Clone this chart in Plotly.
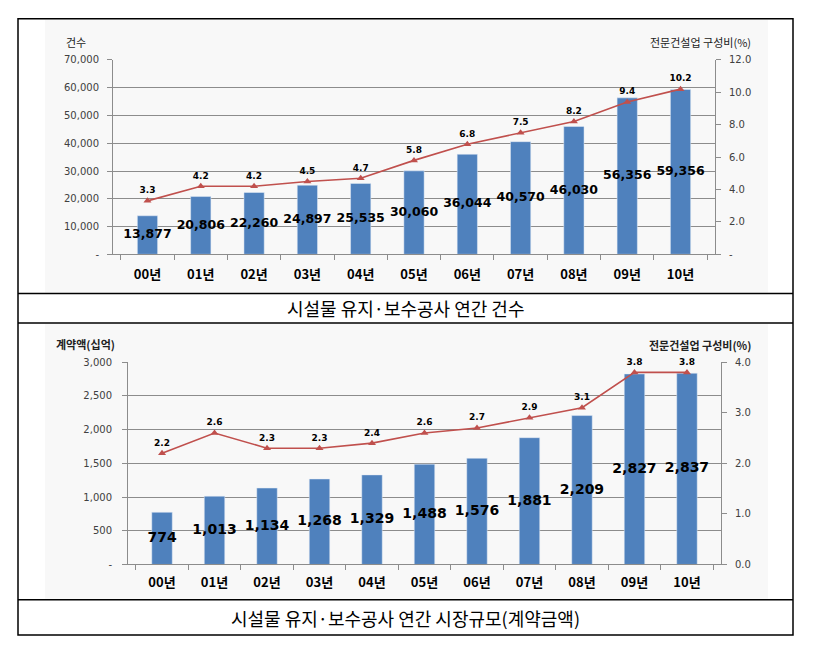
import plotly.graph_objects as go

W, H = 813, 647

years = ["00년", "01년", "02년", "03년", "04년", "05년", "06년", "07년", "08년", "09년", "10년"]

# chart 1: counts
counts = [13877, 20806, 22260, 24897, 25535, 30060, 36044, 40570, 46030, 56356, 59356]
count_share = [3.3, 4.2, 4.2, 4.5, 4.7, 5.8, 6.8, 7.5, 8.2, 9.4, 10.2]
left1_ticks = [0, 10000, 20000, 30000, 40000, 50000, 60000, 70000]
left1_text = ["-", "10,000", "20,000", "30,000", "40,000", "50,000", "60,000", "70,000"]
right1_ticks = [0, 2, 4, 6, 8, 10, 12]
right1_text = ["-", "2.0", "4.0", "6.0", "8.0", "10.0", "12.0"]

# chart 2: contract amount
amounts = [774, 1013, 1134, 1268, 1329, 1488, 1576, 1881, 2209, 2827, 2837]
amount_share = [2.2, 2.6, 2.3, 2.3, 2.4, 2.6, 2.7, 2.9, 3.1, 3.8, 3.8]
left2_ticks = [0, 500, 1000, 1500, 2000, 2500, 3000]
left2_text = ["-", "500", "1,000", "1,500", "2,000", "2,500", "3,000"]
right2_ticks = [0, 1, 2, 3, 4]
right2_text = ["0.0", "1.0", "2.0", "3.0", "4.0"]

caption1 = "시설물 유지·보수공사 연간 건수"
caption2 = "시설물 유지·보수공사 연간 시장규모(계약금액)"

BAR = "#4F81BD"
LINE = "#C0504D"
GRID = "#8c8c8c"
NUMFONT = "DejaVu Sans, Verdana, sans-serif"
KFONT = "Noto Sans CJK KR, sans-serif"


def px(x):
    return x / W


def py(y):
    return 1 - y / H


fig = go.Figure()

# ---- chart 1
fig.add_trace(go.Bar(x=years, y=counts, marker_color=BAR, width=0.38,
                     xaxis="x", yaxis="y", hoverinfo="skip"))
fig.add_trace(go.Scatter(x=years, y=[v / 2 for v in counts], mode="text",
                         text=[f"{v:,}" for v in counts], cliponaxis=False,
                         textfont=dict(family=NUMFONT, size=12.5, color="black", weight="bold"),
                         xaxis="x", yaxis="y", hoverinfo="skip"))
fig.add_trace(go.Scatter(x=years, y=count_share, mode="lines+markers+text",
                         line=dict(color=LINE, width=1.6), cliponaxis=False,
                         marker=dict(symbol="triangle-up", size=7, color=LINE),
                         text=[f"{v:.1f}" for v in count_share], textposition="top center",
                         textfont=dict(family=NUMFONT, size=9, color="black", weight="bold"),
                         xaxis="x", yaxis="y2", hoverinfo="skip"))

# ---- chart 2
fig.add_trace(go.Bar(x=years, y=amounts, marker_color=BAR, width=0.39,
                     xaxis="x2", yaxis="y3", hoverinfo="skip"))
fig.add_trace(go.Scatter(x=years, y=[v / 2 for v in amounts], mode="text",
                         text=[f"{v:,}" for v in amounts], cliponaxis=False,
                         textfont=dict(family=NUMFONT, size=14, color="black", weight="bold"),
                         xaxis="x2", yaxis="y3", hoverinfo="skip"))
fig.add_trace(go.Scatter(x=years, y=amount_share, mode="lines+markers+text",
                         line=dict(color=LINE, width=1.6), cliponaxis=False,
                         marker=dict(symbol="triangle-up", size=7, color=LINE),
                         text=[f"{v:.1f}" for v in amount_share], textposition="top center",
                         textfont=dict(family=NUMFONT, size=9, color="black", weight="bold"),
                         xaxis="x2", yaxis="y4", hoverinfo="skip"))

tickfont = dict(family=NUMFONT, size=10, color="#404040")
xfont = dict(family=KFONT, size=13, color="black", weight="bold")

xcommon = dict(type="category", showline=True, linecolor=GRID, linewidth=1,
               ticks="outside", ticklen=5, tickcolor=GRID, tickson="boundaries",
               tickfont=xfont, showgrid=False, zeroline=False, fixedrange=True)

fig.update_layout(
    width=W, height=H, margin=dict(l=0, r=0, t=0, b=0),
    paper_bgcolor="white", plot_bgcolor="white", showlegend=False,
    xaxis=dict(domain=[px(113), px(715)], anchor="y", ticklabelstandoff=8, **xcommon),
    yaxis=dict(domain=[py(253), py(55)], anchor="x", range=[0, 70000],
               tickvals=left1_ticks, ticktext=left1_text, tickfont=tickfont,
               showgrid=True, gridcolor=GRID, gridwidth=1, zeroline=False,
               showline=True, linecolor=GRID, ticks="outside", ticklen=5,
               tickcolor=GRID, ticklabelstandoff=6),
    yaxis2=dict(overlaying="y", side="right", anchor="x", range=[0, 12],
                tickvals=right1_ticks, ticktext=right1_text, tickfont=tickfont,
                showgrid=False, zeroline=False, showline=True, linecolor=GRID,
                ticks="outside", ticklen=5, tickcolor=GRID, ticklabelstandoff=6),
    xaxis2=dict(domain=[px(128), px(721)], anchor="y3", ticklabelstandoff=6, **xcommon),
    yaxis3=dict(domain=[py(569), py(363)], anchor="x2", range=[0, 3000],
                tickvals=left2_ticks, ticktext=left2_text, tickfont=tickfont,
                showgrid=True, gridcolor=GRID, gridwidth=1, zeroline=False,
                showline=True, linecolor=GRID, ticks="outside", ticklen=5,
                tickcolor=GRID, ticklabelstandoff=8),
    yaxis4=dict(overlaying="y3", side="right", anchor="x2", range=[0, 4],
                tickvals=right2_ticks, ticktext=right2_text, tickfont=tickfont,
                showgrid=False, zeroline=False, showline=True, linecolor=GRID,
                ticks="outside", ticklen=5, tickcolor=GRID, ticklabelstandoff=6),
)

shapes = []
# light chart-area backgrounds
for (y0, y1) in [(14, 292), (324, 604)]:
    shapes.append(dict(type="rect", xref="paper", yref="paper", layer="below",
                       x0=px(45), x1=px(768), y0=py(y1), y1=py(y0),
                       fillcolor="#f8f8f8", line=dict(width=0)))
# outer border and separators
shapes.append(dict(type="rect", xref="paper", yref="paper",
                   x0=px(18), x1=px(793), y0=py(641), y1=py(13),
                   line=dict(color="black", width=1.5)))
for y in [293, 323, 605]:
    shapes.append(dict(type="line", xref="paper", yref="paper",
                       x0=px(18), x1=px(793), y0=py(y), y1=py(y),
                       line=dict(color="black", width=1.5)))
fig.update_layout(shapes=shapes)

ann = [
    dict(text="건수", x=px(64), y=py(37), xanchor="left", yanchor="middle",
         font=dict(family=KFONT, size=11, color="#222")),
    dict(text="전문건설업 구성비(%)", x=px(753), y=py(37), xanchor="right", yanchor="middle",
         font=dict(family=KFONT, size=11, color="#222")),
    dict(text="계약액(십억)", x=px(54), y=py(344), xanchor="left", yanchor="middle",
         font=dict(family=KFONT, size=11, color="#222", weight="bold")),
    dict(text="전문건설업 구성비(%)", x=px(753), y=py(345), xanchor="right", yanchor="middle",
         font=dict(family=KFONT, size=11, color="#222", weight="bold")),
    dict(text=caption1, x=px(405.5), y=py(308), xanchor="center", yanchor="middle",
         font=dict(family=KFONT, size=18, color="black")),
    dict(text=caption2, x=px(405.5), y=py(624), xanchor="center", yanchor="middle",
         font=dict(family=KFONT, size=18, color="black")),
]
for a in ann:
    a.update(xref="paper", yref="paper", showarrow=False)
fig.update_layout(annotations=ann)

fig.write_html("out.html")
